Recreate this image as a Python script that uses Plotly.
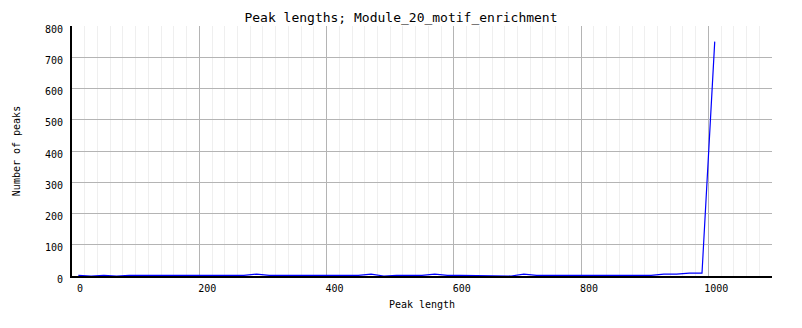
import plotly.graph_objects as go

# Bin centres (peak length) and counts
peak_length = [10, 30, 50, 70, 90, 110, 130, 150, 170, 190,
               210, 230, 250, 270, 290, 310, 330, 350, 370, 390,
               410, 430, 450, 470, 490, 510, 530, 550, 570, 590,
               610, 630, 650, 670, 690, 710, 730, 750, 770, 790,
               810, 830, 850, 870, 890, 910, 930, 950, 970, 990,
               1010]
num_peaks = [2, 0, 2, 0, 2, 2, 2, 0, 2, 2,
             2, 2, 2, 2, 6, 2, 2, 2, 0, 2,
             2, 2, 2, 6, 0, 2, 2, 2, 6, 2,
             2, 2, 2, 2, 0, 6, 2, 2, 2, 0,
             2, 2, 2, 0, 2, 2, 6, 6, 9, 9,
             750]

x_tickvals = [0, 200, 400, 600, 800, 1000]
x_ticktext = ["0", "200", "400", "600", "800", "1000"]
y_tickvals = [0, 100, 200, 300, 400, 500, 600, 700, 800]
y_ticktext = ["0", "100", "200", "300", "400", "500", "600", "700", "800"]

FONT = "DejaVu Sans Mono"

fig = go.Figure()
fig.add_trace(go.Scatter(
    x=peak_length, y=num_peaks, mode="lines",
    line=dict(color="#0000ff", width=1.2),
    showlegend=False, hoverinfo="x+y",
))

fig.update_layout(
    width=802, height=328,
    margin=dict(l=72, r=30, t=26, b=52),
    paper_bgcolor="white", plot_bgcolor="white",
    font=dict(family=FONT, size=10, color="black"),
    title=dict(text="Peak lengths; Module_20_motif_enrichment",
               font=dict(family=FONT, size=13, color="black"),
               x=0.5, xref="container", xanchor="center",
               y=1 - 17 / 328, yref="container", yanchor="middle"),
)

fig.update_xaxes(
    range=[0, 1100],
    tickmode="array", tickvals=x_tickvals, ticktext=x_ticktext,
    ticklabelshift=8, ticklabelstandoff=2,
    showgrid=True, gridcolor="#b4b4b4", gridwidth=1,
    minor=dict(dtick=20, tick0=0, showgrid=True, gridcolor="#efefef", gridwidth=1),
    showline=True, linecolor="black", linewidth=2,
    zeroline=False, ticks="",
    title=dict(text="Peak length", font=dict(family=FONT, size=10), standoff=8),
    layer="below traces",
)
fig.update_yaxes(
    range=[0, 800],
    tickmode="array", tickvals=y_tickvals, ticktext=y_ticktext,
    ticklabelshift=3, ticklabelstandoff=5,
    showgrid=True, gridcolor="#b4b4b4", gridwidth=1,
    showline=True, linecolor="black", linewidth=2,
    zeroline=False, ticks="",
    title=dict(text="Number of peaks", font=dict(family=FONT, size=10), standoff=22),
    layer="below traces",
)

fig.write_html("out.html")
